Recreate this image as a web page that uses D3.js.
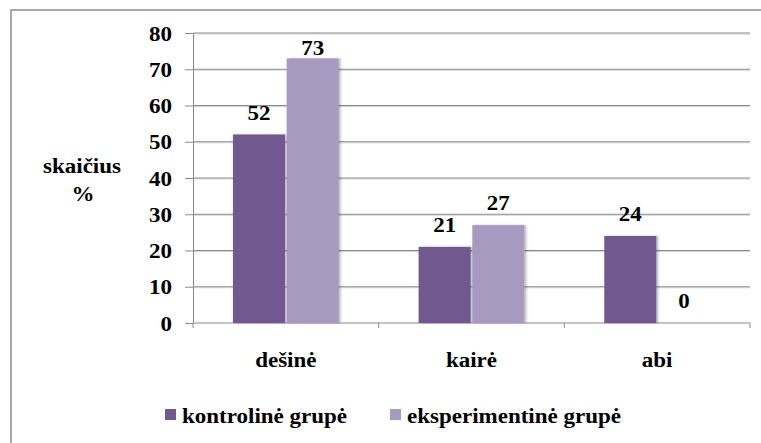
<!DOCTYPE html>
<html>
<head>
<meta charset="utf-8">
<script src="https://cdn.jsdelivr.net/npm/d3@7"></script>
</head>
<body style="margin:0">
<script>
var WIDTH = 761, HEIGHT = 443;

var categories = ['dešinė', 'kairė', 'abi'];
var seriesNames = ['kontrolinė grupė', 'eksperimentinė grupė'];
var kontroline = [52, 21, 24];
var eksperimentine = [73, 27, 0];
var yTicks = [0, 10, 20, 30, 40, 50, 60, 70, 80];

var COLORS = ['#71588f', '#a899c1'];
var FONT = 'Liberation Serif';
var STRETCH = 1.15; // text in the picture is a bit wide

var rows = categories.map(function (c, i) {
    return { cat: c, values: [kontroline[i], eksperimentine[i]] };
});

var svg = d3.select('body').append('svg')
    .attr('width', WIDTH).attr('height', HEIGHT)
    .attr('font-family', FONT);

var defs = svg.append('defs');
defs.append('filter').attr('id', 'shadow')
    .attr('x', '-20%').attr('y', '-5%').attr('width', '140%').attr('height', '110%')
    .append('feDropShadow')
    .attr('dx', 2).attr('dy', 0).attr('stdDeviation', 1)
    .attr('flood-color', '#000').attr('flood-opacity', 0.25);

// chart border, runs off the right and bottom of the picture
svg.append('rect')
    .attr('x', 11).attr('y', 10)
    .attr('width', 800).attr('height', 500)
    .attr('fill', 'none').attr('stroke', '#8c8c8c').attr('stroke-width', 1.5);

var plot = { left: 193, right: 750, top: 33, bottom: 323 };

var x0 = d3.scaleBand().domain(categories).range([plot.left, plot.right]).padding(0);
var x1 = d3.scaleBand().domain(d3.range(seriesNames.length))
    .range([x0.bandwidth() * 0.215, x0.bandwidth() * 0.785]).paddingInner(0.03);
var y = d3.scaleLinear().domain([0, 80]).range([plot.bottom, plot.top]);

function label(sel, x, yy) {
    sel.attr('x', x).attr('y', yy)
        .attr('font-family', FONT)
        .attr('font-weight', 'bold')
        .attr('font-size', 20)
        .attr('fill', '#000');
    var node = sel.node();
    var len = node.getComputedTextLength();
    if (len > 0) sel.attr('textLength', len * STRETCH).attr('lengthAdjust', 'spacingAndGlyphs');
    return sel;
}

// gridlines
var grid = svg.append('g');
grid.selectAll('line.g2').data(yTicks.slice(1)).enter().append('line')
    .attr('x1', plot.left).attr('x2', plot.right)
    .attr('y1', function (d) { return y(d) + 1; }).attr('y2', function (d) { return y(d) + 1; })
    .attr('stroke', '#d4d4d4').attr('stroke-width', 1);
grid.selectAll('line.g1').data(yTicks.slice(1)).enter().append('line')
    .attr('x1', plot.left).attr('x2', plot.right)
    .attr('y1', function (d) { return y(d); }).attr('y2', function (d) { return y(d); })
    .attr('stroke', '#8a8a8a').attr('stroke-width', 1);

// y axis
var yAxis = svg.append('g').attr('transform', 'translate(' + plot.left + ',0)')
    .call(d3.axisLeft(y).tickValues(yTicks).tickSize(8).tickSizeOuter(0))
    .attr('font-family', FONT);
yAxis.select('.domain').attr('stroke', '#8a8a8a');
yAxis.selectAll('.tick line').attr('stroke', '#8a8a8a');
yAxis.selectAll('.tick text').remove();
yAxis.selectAll('.tick').append('text')
    .text(function (d) { return d; })
    .attr('text-anchor', 'end')
    .each(function () { label(d3.select(this), -21, 7); });

// x axis
var xAxis = svg.append('g').attr('transform', 'translate(0,' + plot.bottom + ')');
xAxis.append('line').attr('x1', plot.left).attr('x2', plot.right)
    .attr('stroke', '#8a8a8a').attr('stroke-width', 1);
var xTickPos = categories.map(function (c) { return x0(c); }).concat([plot.right]);
xAxis.selectAll('line.t').data(xTickPos).enter().append('line')
    .attr('x1', function (d) { return d; }).attr('x2', function (d) { return d; })
    .attr('y1', 0).attr('y2', 5).attr('stroke', '#8a8a8a');
xAxis.selectAll('text').data(categories).enter().append('text')
    .text(function (d) { return d; })
    .attr('text-anchor', 'middle')
    .each(function (d) { label(d3.select(this), x0(d) + x0.bandwidth() / 2, 44); });

// bars
var groups = svg.append('g').selectAll('g').data(rows).enter().append('g')
    .attr('transform', function (d) { return 'translate(' + x0(d.cat) + ',0)'; });

groups.selectAll('rect').data(function (d) { return d.values; }).enter().append('rect')
    .attr('x', function (d, i) { return x1(i); })
    .attr('width', x1.bandwidth())
    .attr('y', function (d) { return y(d); })
    .attr('height', function (d) { return y(0) - y(d); })
    .attr('fill', function (d, i) { return COLORS[i]; })
    .attr('filter', 'url(#shadow)');

// value labels, kept inside the plot area
groups.selectAll('text').data(function (d) { return d.values; }).enter().append('text')
    .text(function (d) { return d; })
    .attr('text-anchor', 'middle')
    .each(function (d, i) {
        var yy = Math.max(y(d) - 15, plot.top + 22);
        label(d3.select(this), x1(i) + x1.bandwidth() / 2, yy);
    });

// y title
var yTitle = svg.append('g');
label(yTitle.append('text').text('skaičius').attr('text-anchor', 'middle'), 82, 173);
label(yTitle.append('text').text('%').attr('text-anchor', 'middle'), 83, 201);

// legend
var legendX = [165, 390];
var legend = svg.append('g').selectAll('g').data(seriesNames).enter().append('g')
    .attr('transform', function (d, i) { return 'translate(' + legendX[i] + ',0)'; });
legend.append('rect').attr('x', 0).attr('y', 409).attr('width', 11).attr('height', 11)
    .attr('fill', function (d, i) { return COLORS[i]; });
legend.append('text').text(function (d) { return d; })
    .each(function () { label(d3.select(this), 17, 423); });
</script>
</body>
</html>
